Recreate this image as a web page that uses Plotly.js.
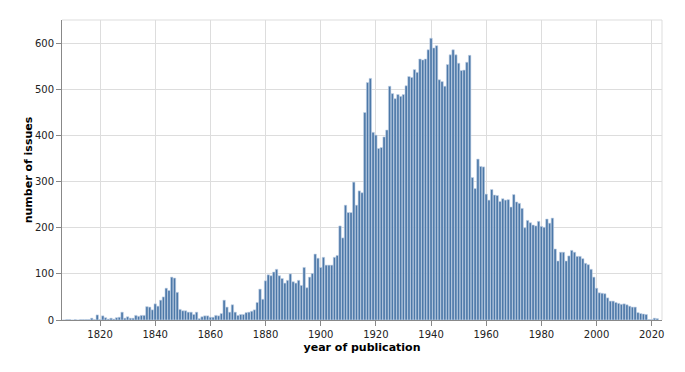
<!DOCTYPE html>
<html>
<head>
<meta charset="utf-8">
<script src="https://cdn.plot.ly/plotly-3.0.1.min.js"></script>
<style>
  html, body { margin: 0; padding: 0; background: #fff; }
  #chart { width: 685px; height: 372px; }
</style>
</head>
<body>
<div id="chart"></div>
<script>
// Year of publication (categories on a linear year axis)
const years = [
  1806,1807,1808,1809,1810,1811,1812,1813,1814,1815,
  1816,1817,1818,1819,1820,1821,1822,1823,1824,1825,
  1826,1827,1828,1829,1830,1831,1832,1833,1834,1835,
  1836,1837,1838,1839,1840,1841,1842,1843,1844,1845,
  1846,1847,1848,1849,1850,1851,1852,1853,1854,1855,
  1856,1857,1858,1859,1860,1861,1862,1863,1864,1865,
  1866,1867,1868,1869,1870,1871,1872,1873,1874,1875,
  1876,1877,1878,1879,1880,1881,1882,1883,1884,1885,
  1886,1887,1888,1889,1890,1891,1892,1893,1894,1895,
  1896,1897,1898,1899,1900,1901,1902,1903,1904,1905,
  1906,1907,1908,1909,1910,1911,1912,1913,1914,1915,
  1916,1917,1918,1919,1920,1921,1922,1923,1924,1925,
  1926,1927,1928,1929,1930,1931,1932,1933,1934,1935,
  1936,1937,1938,1939,1940,1941,1942,1943,1944,1945,
  1946,1947,1948,1949,1950,1951,1952,1953,1954,1955,
  1956,1957,1958,1959,1960,1961,1962,1963,1964,1965,
  1966,1967,1968,1969,1970,1971,1972,1973,1974,1975,
  1976,1977,1978,1979,1980,1981,1982,1983,1984,1985,
  1986,1987,1988,1989,1990,1991,1992,1993,1994,1995,
  1996,1997,1998,1999,2000,2001,2002,2003,2004,2005,
  2006,2007,2008,2009,2010,2011,2012,2013,2014,2015,
  2016,2017,2018,2019,2020,2021,2022
];

// Number of issues per year
const issues = [
  0,0,1,1,0,1,0,1,1,1,
  1,4,1,11,1,9,5,2,4,2,
  5,6,17,4,7,4,4,10,8,10,
  10,29,28,22,35,30,43,50,69,64,
  93,91,60,23,20,20,17,17,12,17,
  3,7,9,9,6,6,10,9,14,43,
  28,17,33,17,10,12,12,16,17,19,
  22,38,67,45,85,98,96,104,110,96,
  90,80,86,100,83,80,86,75,114,70,
  93,101,143,134,114,136,119,119,119,136,
  140,204,178,249,233,233,299,249,280,276,
  450,515,524,407,401,372,374,397,412,507,
  491,480,489,485,489,508,528,526,543,537,
  566,564,566,586,611,590,595,521,517,507,
  554,575,586,575,557,541,542,559,574,309,
  285,349,333,332,273,260,283,271,270,257,
  263,260,261,245,272,256,253,242,200,216,
  211,206,204,214,203,201,219,210,221,154,
  128,147,147,128,139,151,147,138,138,133,
  123,120,110,93,69,59,58,57,48,41,
  41,38,36,34,35,33,30,28,28,16,
  14,13,12,1,1,4,3
];

const xTicks = [1820,1840,1860,1880,1900,1920,1940,1960,1980,2000,2020];
const yTicks = [0,100,200,300,400,500,600];

const trace = {
  type: 'bar',
  x: years,
  y: issues,
  marker: { color: '#4c78a8', line: { color: '#c4d4e8', width: 0.6 } },
  hoverinfo: 'x+y'
};

const layout = {
  width: 685,
  height: 372,
  margin: { l: 62, r: 23, t: 20, b: 52 },
  paper_bgcolor: '#fff',
  plot_bgcolor: '#fff',
  bargap: 0.12,
  showlegend: false,
  font: { family: 'DejaVu Sans, sans-serif', size: 10, color: '#222' },
  xaxis: {
    range: [1806.22, 2023.73],
    tickmode: 'array',
    tickvals: xTicks,
    ticktext: xTicks.map(String),
    showgrid: true,
    gridcolor: '#dddddd',
    gridwidth: 1,
    zeroline: false,
    showline: true,
    linecolor: '#888888',
    linewidth: 1,
    ticks: 'outside',
    ticklen: 5,
    tickcolor: '#888888',
    tickfont: { size: 10, color: '#222' },
    title: { text: 'year of publication', font: { size: 11, color: '#000', weight: 'bold' }, standoff: 4 }
  },
  yaxis: {
    range: [0, 650.6],
    tickmode: 'array',
    tickvals: yTicks,
    ticktext: yTicks.map(String),
    showgrid: true,
    gridcolor: '#dddddd',
    gridwidth: 1,
    zeroline: false,
    showline: true,
    linecolor: '#888888',
    linewidth: 1,
    ticks: 'outside',
    ticklen: 5,
    tickcolor: '#888888',
    tickfont: { size: 10, color: '#222' },
    title: { text: 'number of issues', font: { size: 11, color: '#000', weight: 'bold' }, standoff: 0 }
  },
  shapes: [
    { type: 'line', xref: 'paper', yref: 'paper', x0: 0, x1: 1, y0: 1, y1: 1, line: { color: '#dddddd', width: 1 } },
    { type: 'line', xref: 'paper', yref: 'paper', x0: 1, x1: 1, y0: 0, y1: 1, line: { color: '#dddddd', width: 1 } }
  ]
};

Plotly.newPlot('chart', [trace], layout, { displayModeBar: false, staticPlot: true });
</script>
</body>
</html>
